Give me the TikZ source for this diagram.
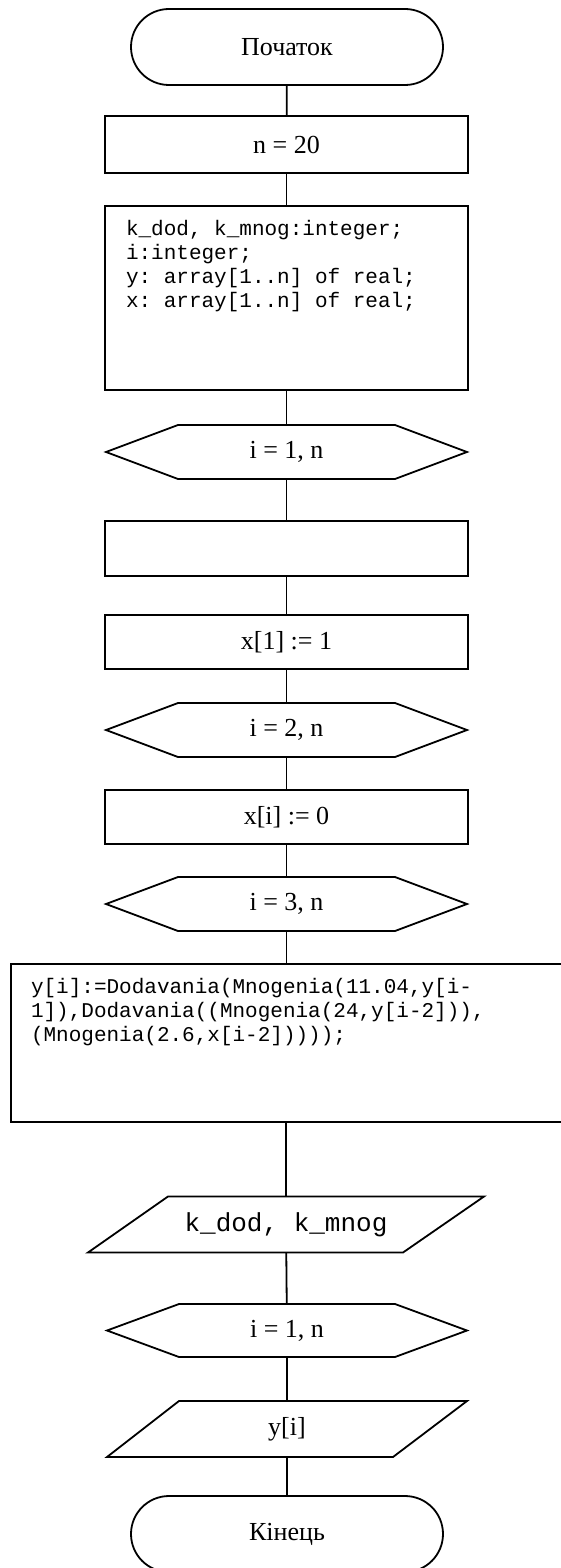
\documentclass[tikz,border=0pt]{standalone}
\usepackage{fontspec}
\setmainfont{Liberation Serif}
\setmonofont{Liberation Mono}
\usetikzlibrary{calc}
\newcommand\drawhex[1]{%
  \draw (#1.west) -- ([xshift=72pt]#1.north west) -- ([xshift=-72pt]#1.north east)
    -- (#1.east) -- ([xshift=-72pt]#1.south east) -- ([xshift=72pt]#1.south west) -- cycle;}
\begin{document}
\begin{tikzpicture}[x=1pt,y=-1pt,line width=1.8pt,
  every node/.style={inner sep=0pt,outer sep=0pt},
  lbl/.style={font=\fontsize{26}{30}\selectfont},
  code/.style={font=\ttfamily\fontsize{21}{24}\selectfont,anchor=base west},
  term/.style={lbl,draw,rounded corners=38pt,minimum width=312pt,minimum height=76pt},
  proc/.style={lbl,draw,minimum width=363pt,minimum height=55pt},
  hexnode/.style={lbl,minimum width=361pt,minimum height=54pt},
  ionode/.style={lbl,minimum height=56pt},
  link/.style={line width=1.8pt}]
\useasboundingbox (0,0) rectangle (561,1568);
\clip (0,0) rectangle (561,1568);
\fill[white] (0,0) rectangle (561,1568);

\node[term] (start) at (287,47) {Початок};
\node[proc,minimum height=57pt] (n) at (286.5,144.5) {n = 20};
\node[proc,minimum height=184pt] (decl) at (286.5,298) {};
\node[code] (d1) at (126,235) {k\_dod, k\_mnog:integer;};
\node[code] (d2) at (126,259) {i:integer;};
\node[code] (d3) at (126,283) {y: array[1..n] of real;};
\node[code] (d4) at (126,307) {x: array[1..n] of real;};

\node[hexnode] (h1) at (286.5,452) {i = 1, n};
\drawhex{h1}
\node[proc] (empty) at (286.5,548.5) {};
\node[proc,minimum height=54pt] (x1) at (286.5,642) {x[1] := 1};
\node[hexnode] (h2) at (286.5,730) {i = 2, n};
\drawhex{h2}
\node[proc,minimum height=54pt] (xi) at (286.5,817) {x[i] := 0};
\node[hexnode] (h3) at (286.5,904) {i = 3, n};
\drawhex{h3}

\node[draw,minimum width=560pt,minimum height=158pt] (ybox) at (291,1043) {};
\node[code] (y1) at (31,993) {y[i]:=Dodavania(Mnogenia(11.04,y[i-};
\node[code] (y2) at (31,1017) {1]),Dodavania((Mnogenia(24,y[i-2])),};
\node[code] (y3) at (31,1041) {(Mnogenia(2.6,x[i-2]))));};

\node[ionode,minimum width=396pt,font=\ttfamily\fontsize{26}{30}\selectfont] (kout) at (286,1224.5) {k\_dod, k\_mnog};
\draw ([xshift=80pt]kout.north west) -- (kout.north east) -- ([xshift=-81pt]kout.south east) -- (kout.south west) -- cycle;

\node[hexnode,minimum width=360pt,minimum height=53pt] (h4) at (287,1330.5) {i = 1, n};
\drawhex{h4}
\node[ionode,minimum width=360pt] (yout) at (287,1429) {y[i]};
\draw ([xshift=72pt]yout.north west) -- (yout.north east) -- ([xshift=-74pt]yout.south east) -- (yout.south west) -- cycle;

\node[term] (end) at (287,1534) {Кінець};

\draw[link] (start) -- (n);
\draw[link] (n) -- (decl);
\draw[link] (decl) -- (h1);
\draw[link] (h1) -- (empty);
\draw[link] (empty) -- (x1);
\draw[link] (x1) -- (h2);
\draw[link] (h2) -- (xi);
\draw[link] (xi) -- (h3);
\draw[link] (h3.south) -- (h3.south |- ybox.north);
\draw[link] (kout.north |- ybox.south) -- (kout.north);
\draw[link] (kout) -- (h4);
\draw[link] (h4) -- (yout);
\draw[link] (yout) -- (end);
\end{tikzpicture}
\end{document}
